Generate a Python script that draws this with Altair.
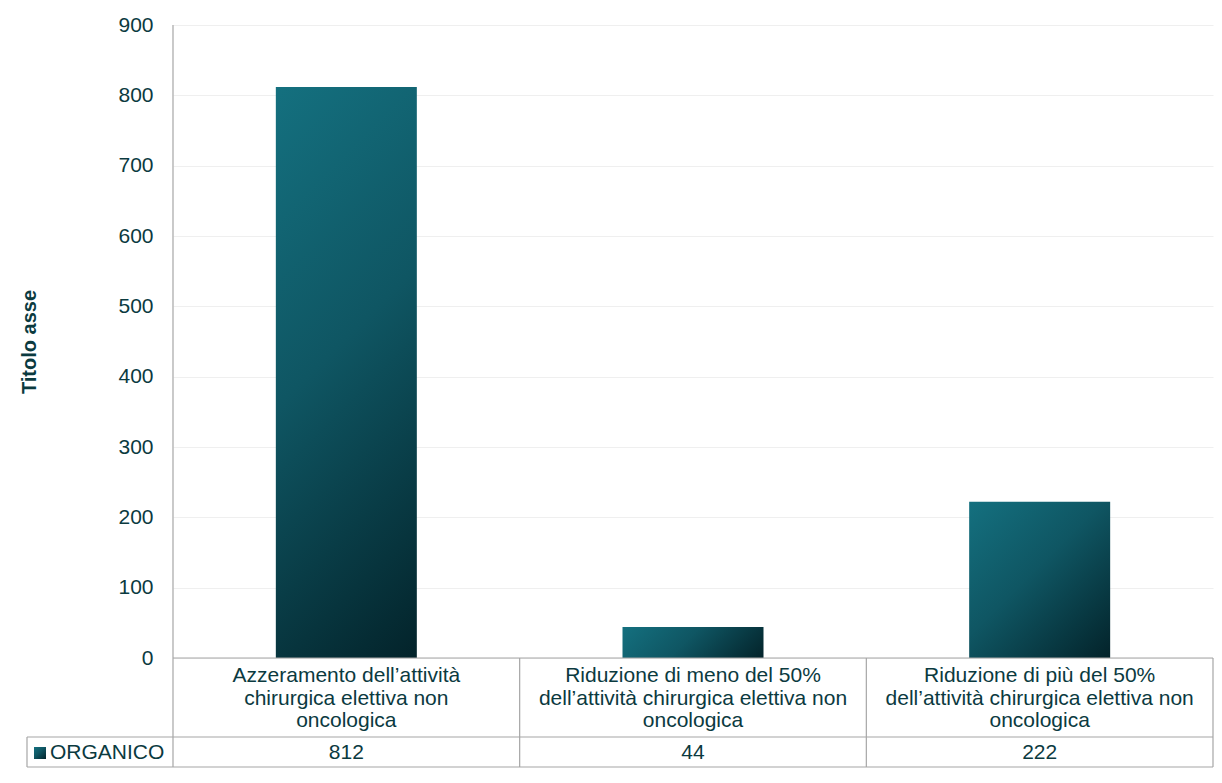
import altair as alt
import pandas as pd

# ---------------- data ----------------
categories = [
    "Azzeramento dell’attività\nchirurgica elettiva non\noncologica",
    "Riduzione di meno del 50%\ndell’attività chirurgica elettiva non\noncologica",
    "Riduzione di più del 50%\ndell’attività chirurgica elettiva non\noncologica",
]
values = [812, 44, 222]
series_name = "ORGANICO"
y_ticks = [0, 100, 200, 300, 400, 500, 600, 700, 800, 900]
y_title = "Titolo asse"

# ---------------- style ----------------
W, H = 1040, 633
ROW1, ROW2 = 79, 30
TEXT = "#0b3a3f"
LINE = "#a6a6a6"
GRID = "#efefef"
FONT = "Liberation Sans"
BAR_W = 141
LH = 22.5
C_TOP, C_MID, C_BOT = "#14707f", "#0f5663", "#03232a"
HEADER_LEFT = -146

df = pd.DataFrame({"idx": list(range(len(categories))), "cat": categories, "value": values})
one = pd.DataFrame({"a": [0]})

x_scale = alt.Scale(paddingInner=0, paddingOuter=0)
x_enc = alt.X("cat:N", sort=categories, scale=x_scale, axis=None)
y_enc = alt.Y(
    "value:Q",
    scale=alt.Scale(domain=[0, 900], nice=False),
    axis=alt.Axis(
        values=y_ticks, title=y_title,
        titleFont=FONT, titleFontSize=20, titleFontWeight="bold", titleColor=TEXT,
        titleX=-144, titleY=H / 2, titleAngle=270, titleAlign="center", titleBaseline="middle",
        labelFont=FONT, labelFontSize=21, labelColor=TEXT, labelPadding=20,
        ticks=False, tickSize=0, domain=False,
        grid=True, gridColor=GRID, gridWidth=1,
    ),
)


def stops():
    return [
        alt.GradientStop(offset=0, color=C_TOP),
        alt.GradientStop(offset=0.45, color=C_MID),
        alt.GradientStop(offset=1, color=C_BOT),
    ]


def grad_for(v):
    w = BAR_W
    h = max(v / 900 * H, 1)
    k = (w + h) / (w * w + h * h)
    return alt.Gradient(gradient="linear", x1=0, y1=0, x2=w * k, y2=h * k, stops=stops())


layers = []
for i, v in enumerate(values):
    layers.append(
        alt.Chart(df)
        .transform_filter(alt.datum.idx == i)
        .mark_bar(fill=grad_for(v), width=alt.RelativeBandSize(BAR_W / (W / 3)))
        .encode(x=x_enc, y=y_enc)
    )


def hrule(y, x0, x1):
    return alt.Chart(one).mark_rule(color=LINE, strokeWidth=1.2).encode(
        x=alt.value(x0), x2=alt.value(x1), y=alt.value(y)
    )


def vrule(x, y0, y1):
    return alt.Chart(one).mark_rule(color=LINE, strokeWidth=1.2).encode(
        x=alt.value(x), y=alt.value(y0), y2=alt.value(y1)
    )


BOT = H + ROW1 + ROW2
layers += [
    hrule(H, 0, W),
    hrule(H + ROW1, HEADER_LEFT, W),
    hrule(BOT, HEADER_LEFT, W),
    vrule(0, 0, BOT),
    vrule(HEADER_LEFT, H + ROW1, BOT),
    vrule(W, H, BOT),
    alt.Chart(df)
    .transform_filter(alt.datum.idx > 0)
    .mark_rule(color=LINE, strokeWidth=1.2)
    .encode(x=alt.X("cat:N", sort=categories, scale=x_scale, axis=None, bandPosition=0),
            y=alt.value(H), y2=alt.value(BOT)),
]

# category labels (table row 1) - three lines centred in the row
layers.append(
    alt.Chart(df)
    .mark_text(font=FONT, fontSize=21, color=TEXT, lineBreak="\n", lineHeight=LH,
               align="center", baseline="middle")
    .encode(x=x_enc, y=alt.value(H + ROW1 / 2 + 1 - LH), text="cat:N")
)
# values (table row 2)
layers.append(
    alt.Chart(df)
    .mark_text(font=FONT, fontSize=21, color=TEXT, align="center", baseline="middle")
    .encode(x=x_enc, y=alt.value(H + ROW1 + ROW2 / 2 + 1), text="value:Q")
)
# legend key
layers.append(
    alt.Chart(one)
    .mark_square(size=144, filled=True, opacity=1,
                 fill=alt.Gradient(gradient="linear", x1=0, y1=0, x2=1, y2=1, stops=stops()))
    .encode(x=alt.value(-133), y=alt.value(H + ROW1 + ROW2 / 2 + 1))
)
layers.append(
    alt.Chart(one)
    .mark_text(font=FONT, fontSize=21, color=TEXT, align="left", baseline="middle", text=series_name)
    .encode(x=alt.value(-123), y=alt.value(H + ROW1 + ROW2 / 2 + 1))
)

chart = (
    alt.layer(*layers)
    .properties(
        width=W, height=H,
        padding={"left": 165, "top": 17, "right": 1, "bottom": 110},
        autosize=alt.AutoSizeParams(type="none"),
        background="white",
    )
    .configure_view(stroke=None)
)

chart.save("out.html", embed_options={"renderer": "svg", "actions": False})
